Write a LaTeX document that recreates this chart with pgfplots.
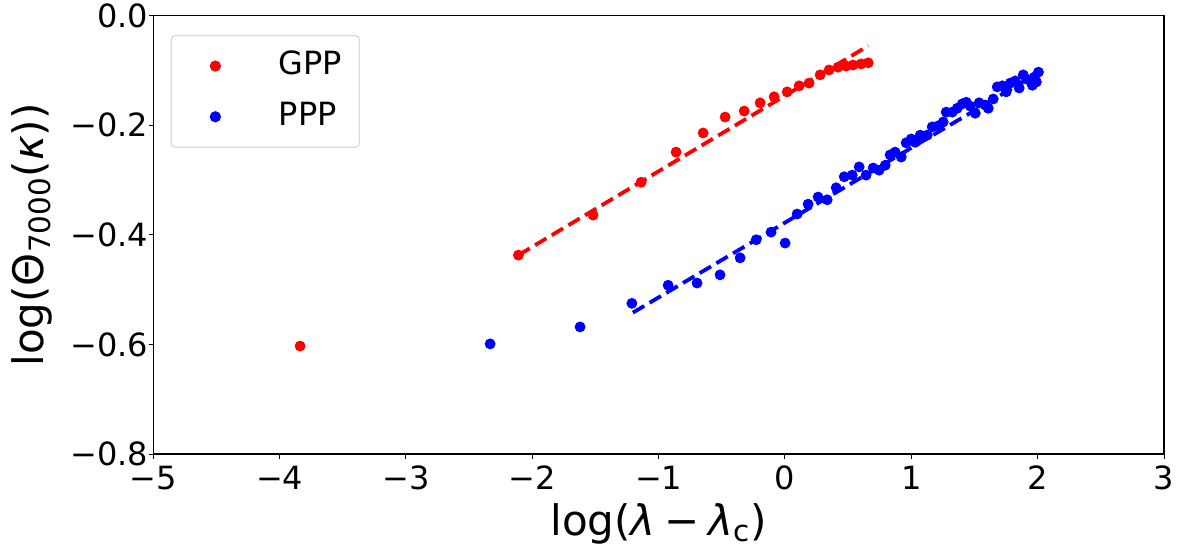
\documentclass[border=0pt]{standalone}
\usepackage{fontspec}
\setmainfont{DejaVu Sans}
\usepackage{pgfplots}
\pgfplotsset{compat=1.18}
\usetikzlibrary{calc}

\begin{document}
\begin{tikzpicture}
\begin{axis}[
    scale only axis, width=505.35bp, height=219.15bp,
    xmin=-5, xmax=3, ymin=-0.8, ymax=0,
    xtick={-5,...,3}, xticklabels={−5,−4,−3,−2,−1,0,1,2,3},
    ytick={-0.8,-0.6,-0.4,-0.2,0}, yticklabels={−0.8,−0.6,−0.4,−0.2,0.0},
    tick align=outside, tick pos=left, major tick length=2.4bp,
    every tick/.style={black, line width=0.5bp},
    axis line style={line width=0.65bp},
    tick label style={font=\fontsize{16bp}{19bp}\selectfont, inner sep=0pt},
    xticklabel style={anchor=north, yshift=-3.5bp},
    yticklabel style={anchor=east},
    label style={font=\fontsize{21bp}{25bp}\selectfont, inner sep=0pt},
    xlabel={log(\textit{λ}\hspace{0.21em}−\hspace{0.21em}\textit{λ}\textsubscript{c})},
    ylabel={log(Θ\textsubscript{7000}(\textit{κ}))},
    xlabel style={at={(axis description cs:0.5,-0.1848)}, anchor=base},
    ylabel style={at={(axis description cs:-0.1091,0.5)}, anchor=base},
    legend style={at={(axis description cs:0.0172,0.956)}, anchor=north west,
        draw=black!15, line width=0.6bp, rounded corners=2bp,
        font=\fontsize{16bp}{19bp}\selectfont,
        inner xsep=8.6bp, inner ysep=7.5bp, row sep=9.85bp, column sep=29bp,
        nodes={inner sep=0pt, text height=12bp, text depth=3.5bp}},
    legend cell align=left,
    legend image code/.code={\path (-13.15bp,0) (2.4bp,0); \draw[#1] plot coordinates {(0bp,0bp)};},
    dashfit/.style={line width=1.9bp, dash pattern=on 6.6bp off 3.1bp},
]
% GPP points
\addplot[only marks, mark=*, mark size=2.5bp, color=red, mark options={draw=none, fill=red}]
    coordinates {(-3.838,-0.603)(-2.110,-0.437)(-1.519,-0.364)(-1.139,-0.304)(-0.862,-0.249)
    (-0.648,-0.214)(-0.474,-0.185)(-0.323,-0.174)(-0.197,-0.159)(-0.086,-0.148)
    (0.017,-0.139)(0.112,-0.128)(0.191,-0.123)(0.278,-0.108)(0.349,-0.099)
    (0.420,-0.094)(0.484,-0.092)(0.539,-0.090)(0.603,-0.088)(0.659,-0.086)};
\addlegendentry{GPP}
% PPP points
\addplot[only marks, mark=*, mark size=2.5bp, color=blue, mark options={draw=none, fill=blue}]
    coordinates {(-2.334,-0.599)(-1.622,-0.568)(-1.212,-0.525)(-0.925,-0.492)(-0.696,-0.488)
    (-0.514,-0.473)(-0.355,-0.442)(-0.228,-0.409)(-0.110,-0.395)(0.001,-0.415)
    (0.096,-0.362)(0.183,-0.344)(0.262,-0.331)(0.334,-0.336)(0.405,-0.314)
    (0.469,-0.294)(0.532,-0.291)(0.587,-0.276)(0.642,-0.291)(0.698,-0.278)
    (0.745,-0.282)(0.793,-0.273)(0.832,-0.254)(0.872,-0.249)(0.920,-0.258)
    (0.959,-0.232)(0.999,-0.225)(1.031,-0.231)(1.070,-0.218)(1.126,-0.218)
    (1.165,-0.203)(1.213,-0.201)(1.252,-0.194)(1.276,-0.176)(1.324,-0.176)
    (1.363,-0.169)(1.403,-0.161)(1.435,-0.158)(1.466,-0.165)(1.506,-0.178)
    (1.537,-0.159)(1.585,-0.163)(1.609,-0.169)(1.648,-0.152)(1.680,-0.130)
    (1.720,-0.128)(1.751,-0.139)(1.783,-0.123)(1.823,-0.119)(1.854,-0.132)
    (1.886,-0.108)(1.926,-0.117)(1.958,-0.127)(1.974,-0.112)(2.006,-0.103)
    (1.990,-0.121)};
\addlegendentry{PPP}
% fitted lines
\addplot[red, dashfit, forget plot] coordinates {(-2.110,-0.437)(0.659,-0.055)};
\addplot[blue, dashfit, forget plot] coordinates {(-1.204,-0.542)(2.006,-0.104)};
\coordinate (sw) at (rel axis cs:0,0);
\coordinate (ne) at (rel axis cs:1,1);
\end{axis}
\pgfresetboundingbox
\path[use as bounding box] ($(sw)+(-76.65bp,-47bp)$) rectangle ($(ne)+(8bp,7.85bp)$);
\end{tikzpicture}
\end{document}
